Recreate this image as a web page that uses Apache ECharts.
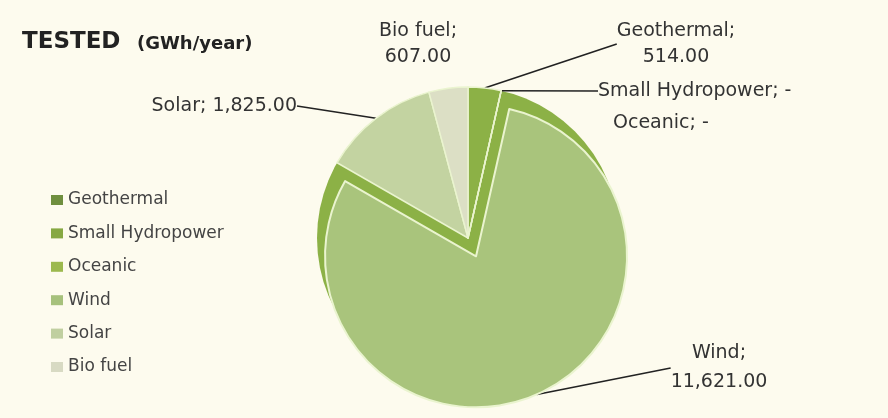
<!DOCTYPE html>
<html>
<head>
<meta charset="utf-8">
<script src="https://cdn.jsdelivr.net/npm/echarts@6/dist/echarts.min.js"></script>
<style>
html,body{margin:0;padding:0;background:#fdfbee;}
#chart{width:888px;height:418px;}
</style>
</head>
<body>
<div id="chart"></div>
<script>
const categories = ['Geothermal', 'Small Hydropower', 'Oceanic', 'Wind', 'Solar', 'Bio fuel'];
const values = [514, 0, 0, 11621, 1825, 607];
const explodedCategory = 'Wind';

const sliceColors = ['#8cb146', '#8fb24a', '#9dbb58', '#a9c47c', '#c3d3a1', '#dcdfc5'];
const legendColors = ['#6f8f3e', '#86a842', '#9cb94e', '#a6c17c', '#c0cfa0', '#d8dac3'];
// label anchor positions (style only)
const labelPos = {
  'Geothermal': {x: 676, y: 44, align: 'center', lh: 26},
  'Small Hydropower': {x: 598, y: 91, align: 'left', lh: 26},
  'Oceanic': {x: 613, y: 123, align: 'left', lh: 26},
  'Wind': {x: 719, y: 368, align: 'center', lh: 29},
  'Solar': {x: 297, y: 106, align: 'right', lh: 26},
  'Bio fuel': {x: 418, y: 44, align: 'center', lh: 26}
};
const twoLine = ['Geothermal', 'Wind', 'Bio fuel'];
const noLine = ['Oceanic', 'Bio fuel'];

const CENTER = [468, 238];
const RADIUS = 151;
const EXPLODE = 20;

function fmt(v) {
  if (!v) return '-';
  return v.toLocaleString('en-US', {minimumFractionDigits: 2, maximumFractionDigits: 2});
}

// centre of the exploded slice, from the data
const total = values.reduce((a, b) => a + b, 0);
const ei = categories.indexOf(explodedCategory);
const before = values.slice(0, ei).reduce((a, b) => a + b, 0);
const midFrac = (before + values[ei] / 2) / total;
const midRad = midFrac * Math.PI * 2; // clockwise from top
const explodedCenter = [CENTER[0] + EXPLODE * Math.sin(midRad), CENTER[1] - EXPLODE * Math.cos(midRad)];

const FONT = '"DejaVu Sans", sans-serif';

const labelCfg = {
  show: true,
  fontFamily: FONT,
  fontSize: 19,
  color: '#333',
  lineHeight: 26,
  formatter: p => twoLine.includes(p.name) ? p.name + ';\n' + fmt(p.value) : p.name + '; ' + fmt(p.value)
};
const labelLineCfg = {show: true, length: 10, length2: 0, smooth: false, lineStyle: {color: '#222', width: 1.6}};
const layoutFn = function (params) {
  const p = labelPos[categories[params.dataIndex]];
  return {x: p.x, y: p.y, align: p.align, verticalAlign: 'middle'};
};

function makeData(showFn) {
  return categories.map((c, i) => {
    const vis = showFn(c);
    return {
      name: c,
      value: values[i],
      itemStyle: vis ? {color: sliceColors[i], borderWidth: c === explodedCategory ? 2 : 1.5}
                     : {color: 'rgba(0,0,0,0)', borderWidth: 0},
      label: vis ? {lineHeight: labelPos[c].lh} : {show: false},
      labelLine: {show: vis && !noLine.includes(c)}
    };
  });
}

const chart = echarts.init(document.getElementById('chart'), null, {renderer: 'canvas'});

chart.setOption({
  backgroundColor: '#fdfbee',
  animation: false,
  title: [
    {left: 22, top: 31, padding: 0, text: 'TESTED',
     textStyle: {fontFamily: FONT, fontSize: 23, fontWeight: 'bold', color: '#222'}},
    {left: 137, top: 35, padding: 0, text: '(GWh/year)',
     textStyle: {fontFamily: FONT, fontSize: 18, fontWeight: 'bold', color: '#222'}}
  ],
  legend: {
    orient: 'vertical',
    left: 51, top: 190,
    padding: 0,
    itemWidth: 12, itemHeight: 10, itemGap: 13.4,
    icon: 'rect',
    selectedMode: false,
    itemStyle: {borderWidth: 0},
    textStyle: {fontFamily: FONT, fontSize: 17, color: '#444', lineHeight: 20},
    data: categories.map((c, i) => ({name: c, itemStyle: {color: legendColors[i], borderWidth: 0}}))
  },
  series: [
    {
      type: 'pie',
      silent: true,
      center: CENTER,
      radius: RADIUS,
      label: {show: false},
      labelLine: {show: false},
      itemStyle: {color: '#8cb146'},
      data: [{name: 'bg', value: 1}],
      z: 1
    },
    {
      type: 'pie',
      silent: true,
      center: CENTER,
      radius: RADIUS,
      startAngle: 90,
      clockwise: true,
      avoidLabelOverlap: false,
      minShowLabelAngle: 0,
      z: 2,
      itemStyle: {borderColor: '#eaf4cf'},
      label: labelCfg,
      labelLine: labelLineCfg,
      labelLayout: layoutFn,
      data: makeData(c => c !== explodedCategory)
    },
    {
      type: 'pie',
      silent: true,
      center: explodedCenter,
      radius: RADIUS,
      startAngle: 90,
      clockwise: true,
      avoidLabelOverlap: false,
      minShowLabelAngle: 0,
      z: 3,
      itemStyle: {borderColor: '#eaf4cf'},
      label: labelCfg,
      labelLine: labelLineCfg,
      labelLayout: layoutFn,
      data: makeData(c => c === explodedCategory)
    }
  ]
});
</script>
</body>
</html>
